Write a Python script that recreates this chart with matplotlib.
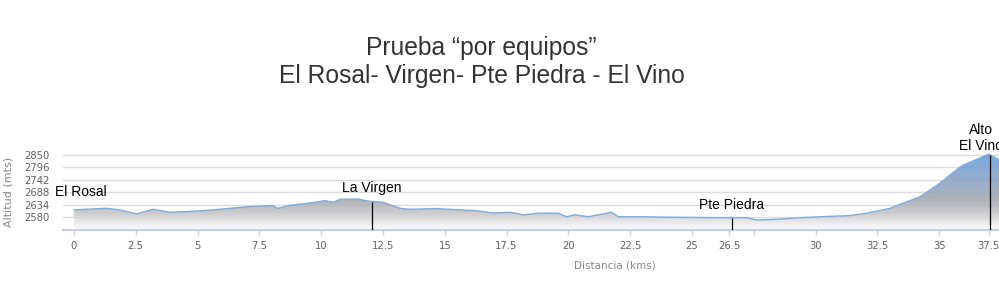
"""Elevation profile: Prueba "por equipos", El Rosal - Virgen - Pte Piedra - El Vino."""

import matplotlib

matplotlib.use("Agg")
import matplotlib.pyplot as plt
import numpy as np
from matplotlib.colors import LinearSegmentedColormap

# profile (km, metres)
KM = [0.0, 0.65, 1.32, 1.86, 2.54, 3.20, 3.88, 4.56, 5.10, 5.91, 7.04, 8.00,
      8.26, 8.67, 9.48, 10.15, 10.49, 10.76, 11.50, 11.77, 12.04, 12.51,
      13.19, 13.59, 14.67, 15.48, 16.29, 16.96, 17.64, 18.18, 18.78, 19.59,
      19.93, 20.27, 20.80, 21.21, 21.75, 22.02, 22.97, 23.91, 25.85, 27.21,
      27.62, 28.43, 29.24, 30.04, 31.39, 32.07, 33.01, 33.41, 34.22, 35.03,
      35.44, 35.78, 35.98, 36.49, 37.01, 37.39, 37.60]
ELEV = [2612, 2616, 2619, 2612, 2595, 2615, 2602, 2605, 2608, 2615, 2626, 2631,
        2619, 2631, 2641, 2652, 2645, 2658, 2659, 2652, 2648, 2645,
        2619, 2615, 2618, 2613, 2609, 2599, 2602, 2591, 2598, 2598,
        2583, 2591, 2583, 2591, 2602, 2583, 2583, 2581, 2579, 2579,
        2569, 2572, 2578, 2582, 2588, 2598, 2619, 2636, 2668, 2727,
        2762, 2791, 2805, 2828, 2852, 2829, 2810]

Y_TICKS = [2580, 2634, 2688, 2742, 2796, 2850]
TICK_KM = [0, 2.5, 5, 7.5, 10, 12.5, 15, 17.5, 20, 22.5, 25, 26.5, 27.5, 30,
           32.5, 35, 37.0]
TICK_LABELS = ["0", "2.5", "5", "7.5", "10", "12.5", "15", "17.5", "20",
               "22.5", "25", "26.5", "", "30", "32.5", "35", "37.5"]

MARKERS = ["El Rosal", "La Virgen", "Pte Piedra", "Alto\nEl Vino"]
MARKER_KM = [0.0, 12.04, 26.6, 37.05]
MARKER_LINE = [False, True, True, True]
# label offsets in pixels (style only)
MARKER_OFFSETS = [(-19, 18), (0, 14), (0, 13), (-9, 2)]
MARKER_HA = ["left", "center", "center", "center"]

GRID = "#dcdcdc"
AXIS = "#c0d0e0"
TICK_TXT = "#606060"
LINE = "#80acdf"


def main():
    km = np.array(KM)
    elev = np.array(ELEV, dtype=float)

    fig = plt.figure(figsize=(9.99, 3.03), dpi=100, facecolor="white")
    ax = fig.add_axes([0.063, 0.2409, 0.937, 0.2538])
    ax.set_xlim(-0.445, 37.42)
    ax.set_ylim(2526, 2856)

    for sp in ("top", "right", "left"):
        ax.spines[sp].set_visible(False)
    ax.spines["bottom"].set_color(AXIS)
    ax.spines["bottom"].set_linewidth(1.5)

    ax.set_yticks(Y_TICKS)
    ax.yaxis.grid(True, color=GRID, lw=1.0)
    ax.set_axisbelow(True)
    ax.tick_params(axis="y", length=0, pad=9.4, labelsize=7.2, labelcolor=TICK_TXT)
    ax.set_xticks(TICK_KM)
    ax.set_xticklabels(TICK_LABELS)
    ax.tick_params(axis="x", length=3.6, width=1, color=AXIS, pad=4,
                   labelsize=7.2, labelcolor=TICK_TXT)

    # gradient fill under the profile
    cmap = LinearSegmentedColormap.from_list(
        "prof",
        [(0.0, "#ffffff"), (0.10, "#e8e8ea"), (0.22, "#c6c6c9"),
         (0.40, "#a4a8b0"), (0.65, "#88a4c6"), (1.0, "#649cdb")])
    poly = ax.fill_between(km, 2526, elev, facecolor="none", edgecolor="none")
    grad = np.linspace(0, 1, 256).reshape(-1, 1)
    img = ax.imshow(grad, cmap=cmap, origin="lower", aspect="auto",
                    extent=[km[0], km[-1], 2526, 2856], alpha=0.88, zorder=2)
    img.set_clip_path(poly.get_paths()[0], transform=ax.transData)
    ax.plot(km, elev, color=LINE, lw=1.0, zorder=3)

    # markers
    for name, mk, line, off, ha in zip(MARKERS, MARKER_KM, MARKER_LINE,
                                       MARKER_OFFSETS, MARKER_HA):
        top = np.interp(mk, km, elev)
        if line:
            ax.vlines(mk, 2526, top, color="black", lw=0.9, zorder=4)
        ax.annotate(name, (mk, top), xytext=off, textcoords="offset pixels",
                    ha=ha, va="bottom" if "\n" in name else "center",
                    fontsize=10, family="Liberation Sans", color="black",
                    linespacing=1.15, annotation_clip=False, zorder=5)

    ax.set_ylabel("Altitud (mts)", fontsize=8, color="#888888")
    ax.yaxis.set_label_coords(-0.053, 0.5)
    ax.set_xlabel("Distancia (kms)", fontsize=7.5, color="#888888", va="center")
    ax.xaxis.set_label_coords(0.59, -0.457)

    fig.text(0.482, 1 - 48 / 303, "Prueba “por equipos”", ha="center",
             va="center", fontsize=17.7, family="Liberation Sans", color="#333333")
    fig.text(0.482, 1 - 76 / 303, "El Rosal- Virgen- Pte Piedra - El Vino",
             ha="center", va="center", fontsize=17.7, family="Liberation Sans",
             color="#333333")

    fig.savefig("out.png", dpi=100, facecolor="white")
    plt.close(fig)


if __name__ == "__main__":
    main()
